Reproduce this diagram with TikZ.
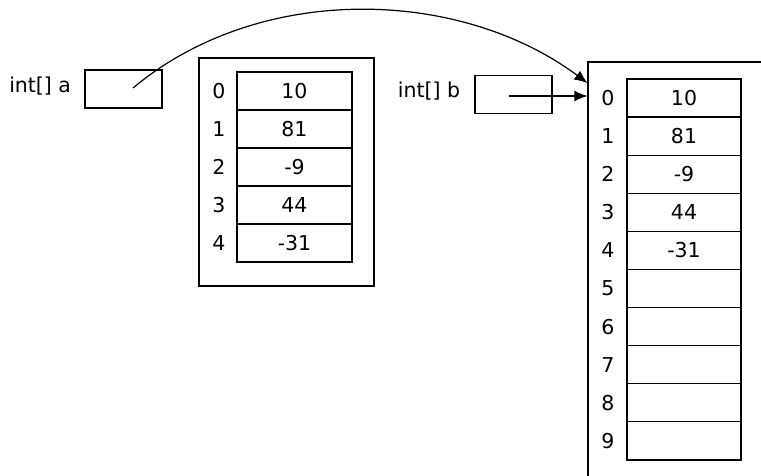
\documentclass[tikz,border=0pt]{standalone}
\usepackage{fontspec}
\setmainfont{DejaVu Sans}
\usetikzlibrary{arrows.meta}
\begin{document}
\begin{tikzpicture}[x=1pt,y=-1pt,line width=1.2pt,
        every node/.style={font=\fontsize{20.5}{23}\selectfont},
        cell/.style={draw,minimum width=115pt,minimum height=38pt,inner sep=0pt},
        refbox/.style={draw,minimum width=77pt,minimum height=38pt,inner sep=0pt}]
        \useasboundingbox (0,0) rectangle (761,476);
        \clip (0,0) rectangle (761,476);
        % the two references
        \node[anchor=east] (alab) at (75,86) {int[] a};
        \node[refbox] (aref) at (123.5,89) {};
        \node[anchor=east] (blab) at (464,91) {int[] b};
        \node[refbox] (bref) at (513.5,94.5) {};
        % old array
        \node[draw,minimum width=175pt,minimum height=228pt] (frameA) at (286.5,172) {};
        \foreach \v [count=\i from 0] in {10,81,-9,44,-31} {
                \node[cell] (a\i) at (294.5,{91+38*\i}) {\v};
                \node (ai\i) at (219,{91+38*\i}) {\i};
        }
        % new array
        \node[draw,minimum width=184pt,minimum height=428pt] (frameB) at (680,276) {};
        \foreach \v [count=\i from 0] in {10,81,-9,44,-31,{},{},{},{},{}} {
                \node[cell,minimum width=114pt,minimum height=38.1pt] (b\i) at (684,{98+38.1*\i}) {\v};
                \node (bi\i) at (608,{98+38.1*\i}) {\i};
        }
        \coordinate (astart) at (133,88);
        \coordinate (bstart) at (509,96);
        \coordinate (bhit) at (frameB.north west |- 0,83);
        \draw[->, >={Latex[length=13pt,width=11pt]}] (astart) .. controls (260,-18) and (460,-12) .. (bhit) ;
        \draw[->, >={Latex[length=13pt,width=11pt]}] (bstart) -- (frameB.west |- bstart) ;
\end{tikzpicture}
\end{document}
